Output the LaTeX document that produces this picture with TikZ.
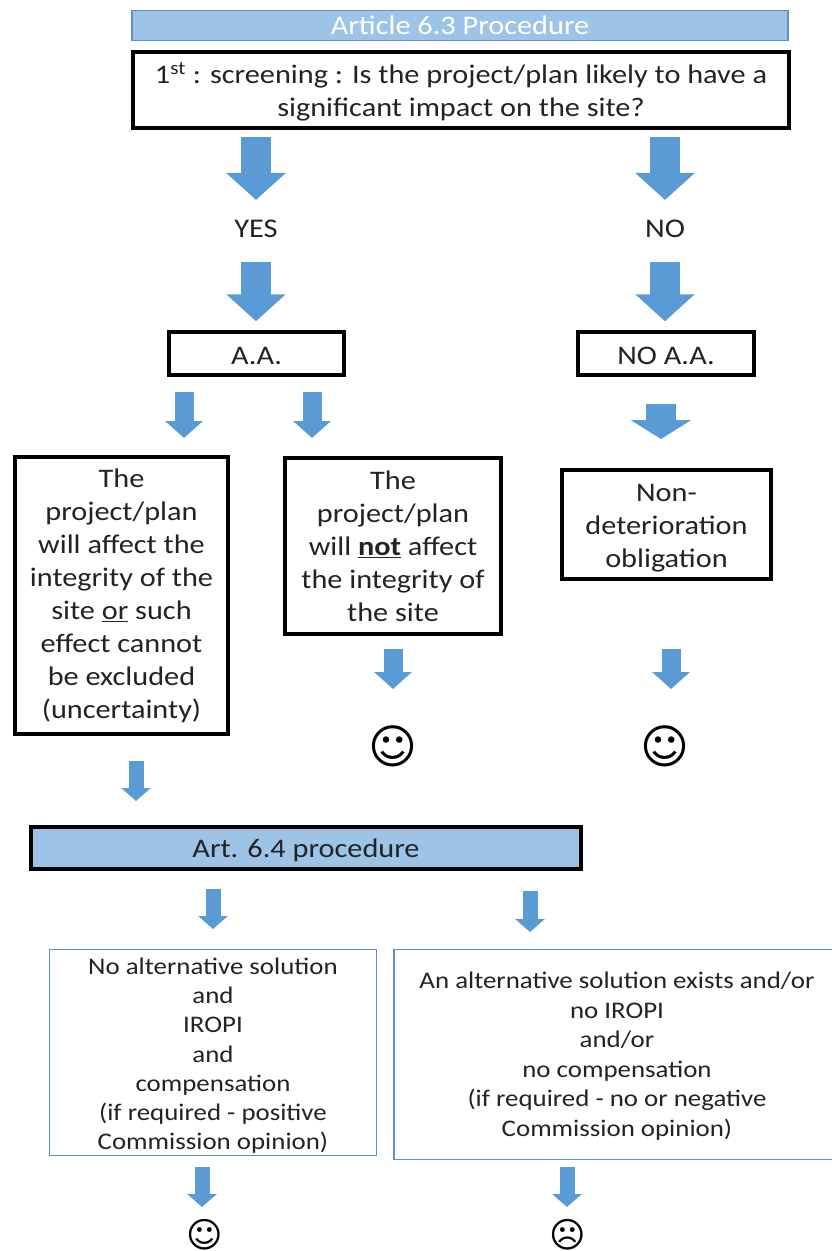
\documentclass[tikz,border=0pt]{standalone}
\usepackage{fontspec}
\usepackage{xcolor}
\setmainfont{Carlito}[FakeStretch=1.13]
\newfontfamily\symbfont{DejaVu Sans}
\usetikzlibrary{arrows.meta, positioning}
\definecolor{arrowblue}{RGB}{91, 155, 213}
\definecolor{barblue}{RGB}{157, 195, 230}
\definecolor{edgeblue}{RGB}{96, 145, 195}
\definecolor{textdark}{RGB}{35, 35, 35}

\begin{document}
\begin{tikzpicture}[
    x=1pt,
    y=-1pt,
    titlebar/.style={
        rectangle,
        fill=barblue,
        draw=edgeblue,
        line width=1.5pt,
        minimum width=656pt,
        minimum height=30pt,
        inner sep=0pt,
        text=white,
        font=\fontsize{26.8}{30}\selectfont
    },
    blackbox/.style={
        rectangle,
        draw=black,
        fill=white,
        line width=3.5pt,
        inner sep=0pt,
        align=center,
        text=textdark,
        font=\fontsize{26.8}{33}\selectfont
    },
    bluebox/.style={
        rectangle,
        draw=edgeblue,
        fill=white,
        line width=1.5pt,
        inner sep=0pt,
        align=center,
        text=textdark,
        font=\fontsize{23.8}{29.3}\selectfont
    },
    label/.style={
        inner sep=0pt,
        text=textdark,
        align=center,
        font=\fontsize{27}{30}\selectfont
    },
    smiley/.style={
        inner sep=0pt,
        text=black,
        font=\symbfont\fontsize{47}{47}\selectfont
    },
    smalls/.style={
        inner sep=0pt,
        text=black,
        font=\symbfont\fontsize{35}{35}\selectfont
    },
    hugearr/.style={arrowblue, line width=30pt, -{Triangle[length=27pt, width=58pt]}},
    widearr/.style={arrowblue, line width=30pt, -{Triangle[length=19pt, width=60pt]}},
    midarr/.style={arrowblue, line width=19pt, -{Triangle[length=17pt, width=37pt]}},
    thinarr/.style={arrowblue, line width=15pt, -{Triangle[length=13pt, width=29pt]}}
]
    \useasboundingbox (0,0) rectangle (832,1251);

    % Title
    \node[titlebar] (title) at (460, 25.5) {Article 6.3 Procedure};
    \node[blackbox, minimum width=656pt, minimum height=76pt] (screening) at (461, 90)
        {\rule{0pt}{25pt}1\textsuperscript{st} : screening : Is the project/plan likely to have a\\significant impact on the site?};

    % Answers
    \node[label] (yes) at (256, 229) {YES};
    \node[label] (no) at (665, 229) {NO};
    \node[blackbox, minimum width=175pt, minimum height=43pt] (aa) at (256.5, 353.5) {\rule{0pt}{23pt}A.A.};
    \node[blackbox, minimum width=176pt, minimum height=43pt] (noaa) at (666, 353.5) {\rule{0pt}{23pt}NO A.A.};

    % Outcomes of the assessment
    \node[blackbox, minimum width=213pt, minimum height=277pt] (affect) at (121.5, 595.5)
        {\rule{0pt}{20pt}The\\project/plan\\will affect the\\integrity of the\\site \underline{or} such\\effect cannot\\be excluded\\(uncertainty)};
    \node[blackbox, minimum width=216pt, minimum height=176pt] (notaffect) at (393, 546)
        {The\\project/plan\\will \underline{\textbf{not}} affect\\the integrity of\\the site};
    \node[blackbox, minimum width=209pt, minimum height=109pt] (nondet) at (666.5, 524.5)
        {\rule{0pt}{25pt}Non-\\deterioration\\obligation};

    \node[smiley] (happyA) at (393, 746) {☺};
    \node[smiley] (happyB) at (665, 746) {☺};

    % Art 6.4
    \node[blackbox, fill=barblue, minimum width=550pt, minimum height=42pt] (art) at (306, 848) {\rule{0pt}{23pt}Art. 6.4 procedure};
    \node[bluebox, minimum width=327pt, minimum height=206pt] (noalt) at (213, 1052.5)
        {\rule{0pt}{23pt}No alternative solution\\and\\IROPI\\and\\compensation\\(if required - positive\\Commission opinion)};
    \node[bluebox, minimum width=470pt, minimum height=210pt] (altbox) at (629, 1054.5) {};
    \node[label, font=\fontsize{23.8}{29.5}\selectfont] (alt) at (617, 1056)
        {An alternative solution exists and/or\\no IROPI\\and/or\\no compensation\\(if required - no or negative\\Commission opinion)};

    \node[smalls] (happyC) at (205, 1235) {☺};
    \node[smalls] (sad) at (568, 1235) {☹};

    % Arrow tips
    \coordinate (tipA) at (184, 438);
    \coordinate (tipB) at (312, 438);
    \coordinate (tipC) at (661, 439);
    \coordinate (tipD) at (393, 689);
    \coordinate (tipE) at (671, 689);
    \coordinate (tipF) at (136, 801);
    \coordinate (tipG) at (213, 929);
    \coordinate (tipH) at (530, 932);
    \coordinate (tipI) at (202, 1207);
    \coordinate (tipJ) at (567, 1207);

    % Arrows
    \draw[hugearr, shorten <=7pt, shorten >=20pt] (screening.south -| yes) -- (yes.north);
    \draw[hugearr, shorten <=7pt, shorten >=20pt] (screening.south -| no) -- (no.north);
    \draw[hugearr, shorten <=24pt, shorten >=9pt] (yes.south) -- (aa.north -| yes);
    \draw[hugearr, shorten <=24pt, shorten >=9pt] (no.south) -- (noaa.north -| no);
    \draw[midarr, shorten <=15pt] (aa.south -| tipA) -- (tipA);
    \draw[midarr, shorten <=15pt] (aa.south -| tipB) -- (tipB);
    \draw[widearr, shorten <=27pt] (noaa.south -| tipC) -- (tipC);
    \draw[midarr, shorten <=13pt] (notaffect.south -| tipD) -- (tipD);
    \draw[midarr, shorten <=68pt] (nondet.south -| tipE) -- (tipE);
    \draw[thinarr, shorten <=25pt] (affect.south -| tipF) -- (tipF);
    \draw[thinarr, shorten <=18pt] (art.south -| tipG) -- (tipG);
    \draw[thinarr, shorten <=20pt] (art.south -| tipH) -- (tipH);
    \draw[thinarr, shorten <=11pt] (noalt.south -| tipI) -- (tipI);
    \draw[thinarr, shorten <=7pt] (altbox.south -| tipJ) -- (tipJ);
\end{tikzpicture}
\end{document}
